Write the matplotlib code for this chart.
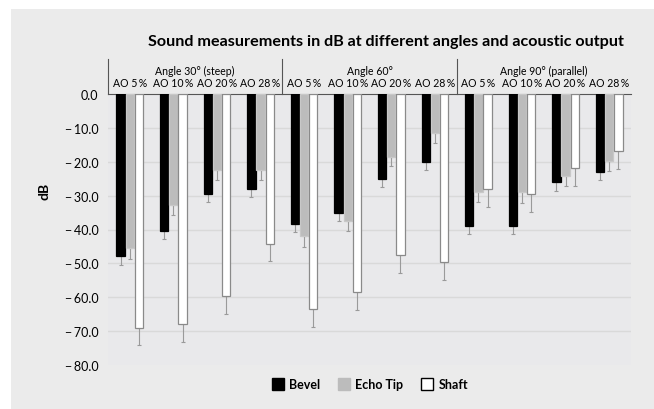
import matplotlib.pyplot as plt
import numpy as np
from matplotlib.patches import Rectangle
from matplotlib.lines import Line2D

plt.rcParams['font.family'] = ['Lato', 'DejaVu Sans']

angles = ["Angle 30° (steep)", "Angle 60°", "Angle 90° (parallel)"]
outputs = ["AO 5\u2009%", "AO 10\u2009%", "AO 20\u2009%", "AO 28\u2009%"]

bevel = [-47.9, -40.3, -29.4, -28.1, -38.5, -35.1, -25.0, -20.0, -39.0, -39.0, -26.1, -23.0]
bevel_err = [2.7, 2.5, 2.5, 2.3, 2.3, 2.5, 2.5, 2.5, 2.3, 2.3, 2.5, 2.4]
echo = [-45.6, -32.8, -22.5, -22.3, -42.0, -37.4, -18.5, -11.4, -28.9, -28.9, -24.1, -19.8]
echo_err = [3.0, 3.0, 2.9, 3.0, 3.2, 3.1, 2.9, 3.1, 3.1, 3.2, 3.1, 3.0]
shaft = [-69.1, -67.9, -59.6, -44.2, -63.4, -58.5, -47.5, -49.7, -28.1, -29.6, -21.9, -16.8]
shaft_err = [5.1, 5.3, 5.2, 5.2, 5.3, 5.3, 5.2, 5.2, 5.2, 5.3, 5.3, 5.4]

fig = plt.figure(figsize=(6.54, 4.10), dpi=100)
fig.patch.set_facecolor('white')
fig.patches.append(Rectangle((11/654, 0), 1, 1 - 10/410, transform=fig.transFigure,
                             facecolor='#ebebeb', edgecolor='none', zorder=-10))

ax = fig.add_axes([108/654, 1 - 366/410, 523/654, 271/410])
ax.set_facecolor('#e9e9eb')

x = np.arange(len(bevel))
w = 0.19
off = 0.21
series = [(bevel, bevel_err, 'black', 'black', -off),
          (echo, echo_err, '#bcbcbc', '#c8c8c8', 0),
          (shaft, shaft_err, 'white', '#8a8a8a', off)]
for vals, errs, fc, ec, d in series:
    ax.bar(x + d, vals, w, color=fc, edgecolor=ec, linewidth=0.9, zorder=3)
    ax.errorbar(x + d, vals, yerr=[errs, np.zeros(len(errs))], fmt='none',
                ecolor='#9a9a9a', elinewidth=0.8, capsize=1.5, capthick=0.8, zorder=2)

ax.set_xlim(-0.5, 11.5)
ax.set_ylim(-80, 0)
yt = np.arange(0, -81, -10)
ax.set_yticks(yt)
ax.set_yticklabels(['0.0'] + ['\u2212\u2009%.1f' % abs(v) for v in yt[1:]], fontsize=9)
ax.tick_params(length=0, pad=7)
ax.set_xticks([])
for v in yt[1:-1]:
    ax.axhline(v, color='#d9d9d9', lw=1, zorder=0)
for s in ['left', 'right', 'bottom']:
    ax.spines[s].set_visible(False)
ax.spines['top'].set_color('#555555')
ax.spines['top'].set_linewidth(0.8)

ax.text(-1.95, -28.5, 'dB', rotation=90, fontsize=10, fontweight='bold',
        ha='center', va='center')

# header with angle groups and AO labels
trans = ax.get_xaxis_transform()
for g in range(3):
    left = g * 4 - 0.5
    ax.plot([left, left], [1.0, 1.129], color='#555555', lw=0.8, transform=trans, clip_on=False)
    ax.text(left + 2, 1.085, angles[g], transform=trans, ha='center', va='center', fontsize=7.6)
    for k in range(4):
        ax.text(g * 4 + k, 1.042, outputs[k], transform=trans, ha='center', va='center', fontsize=7.6)

fig.text(386/654, 1 - 42/410, 'Sound measurements in dB at different angles and acoustic output',
         ha='center', va='center', fontsize=11.6, fontweight='bold')

handles = [Line2D([], [], marker='s', ls='none', markersize=8, markerfacecolor='black', markeredgecolor='black'),
           Line2D([], [], marker='s', ls='none', markersize=8, markerfacecolor='#bcbcbc', markeredgecolor='#bcbcbc'),
           Line2D([], [], marker='s', ls='none', markersize=8, markerfacecolor='white', markeredgecolor='black')]
fig.legend(handles, ['Bevel', 'Echo Tip', 'Shaft'], loc='center', bbox_to_anchor=(370/654, 1 - 385/410),
           ncol=3, frameon=False, prop={'weight': 'bold', 'size': 9}, handletextpad=0.4,
           columnspacing=1.4, handlelength=1.0)

fig.savefig('out.png', dpi=100)
